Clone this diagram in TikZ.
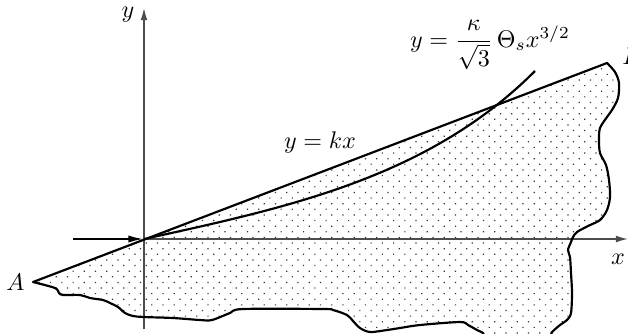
\documentclass[tikz,border=0pt]{standalone}
\usepackage{amsmath}
\usetikzlibrary{arrows.meta,patterns.meta}

\begin{document}
\begin{tikzpicture}[x=0.415pt, y=-0.415pt,
    axis/.style={draw=black!70, line width=0.6pt, -{Latex[length=5pt,width=2.8pt]}},
    edge/.style={line width=0.9pt, line join=round},
    body/.style={pattern={Dots[distance=3.3pt,angle=45,radius=0.35pt]}, pattern color=black!80}]
    \useasboundingbox (0,0) rectangle (628,333);
    \coordinate (O) at (144,239);
    \coordinate[label=left:$A$] (A) at (33,282);
    \coordinate (B) at (607,63);
    \coordinate (K) at (535,71);
    \coordinate (Yb) at (144,329);
    \coordinate (Yt) at (144,8);
    \coordinate (Xr) at (628,239);
    \coordinate (In) at (73,239);
    \fill[body] (A) -- (B) -- plot[smooth, tension=0.5] coordinates {(607,63) (615,72) (619,83) (618,98) (612,110) (607,117) (600,128) (599,140) (600,153) (606,165) (609,180) (610,197) (607,210) (600,220) (588,226) (577,232) (573,237) (571,242) (568,250) (570,257) (571,273) (572,293) (571,313) (567,320) (560,325) (552,332) (545,340) (490,340) (483,333) (477,330) (468,325) (460,322) (420,325) (400,328) (387,330) (370,332) (360,328) (353,321) (347,315) (333,310) (323,309) (243,309) (230,313) (212,320) (200,320) (173,318) (144,317) (133,316) (125,313) (118,307) (110,303) (103,300) (90,298) (80,295) (63,295) (59,293) (55,288) (33,282)} -- cycle;
    \draw[axis] (Yb) -- (Yt);
    \draw[axis] (O) -- (Xr);
    \draw[edge] (A) -- (B) -- plot[smooth, tension=0.5] coordinates {(607,63) (615,72) (619,83) (618,98) (612,110) (607,117) (600,128) (599,140) (600,153) (606,165) (609,180) (610,197) (607,210) (600,220) (588,226) (577,232) (573,237) (571,242) (568,250) (570,257) (571,273) (572,293) (571,313) (567,320) (560,325) (552,332) (545,340) (490,340) (483,333) (477,330) (468,325) (460,322) (420,325) (400,328) (387,330) (370,332) (360,328) (353,321) (347,315) (333,310) (323,309) (243,309) (230,313) (212,320) (200,320) (173,318) (144,317) (133,316) (125,313) (118,307) (110,303) (103,300) (90,298) (80,295) (63,295) (59,293) (55,288) (33,282)} -- cycle;
    \draw[edge] (O) .. controls (290.5,207) and (429,177) .. (K);
    \draw[edge, -{Latex[length=6.5pt,width=3pt]}] (In) -- (O);
    % labels
    \node (ylab) at (128,15) {$y$};
    \node (xlab) at (618,259) {$x$};
    \node (Blab) at (632,56) {$B$};
    \node (line) at (320,142) {$y=kx$};
    \node (law) at (490,45) {$y=\dfrac{\kappa}{\sqrt{3}}\,\Theta_s x^{3/2}$};
\end{tikzpicture}
\end{document}
